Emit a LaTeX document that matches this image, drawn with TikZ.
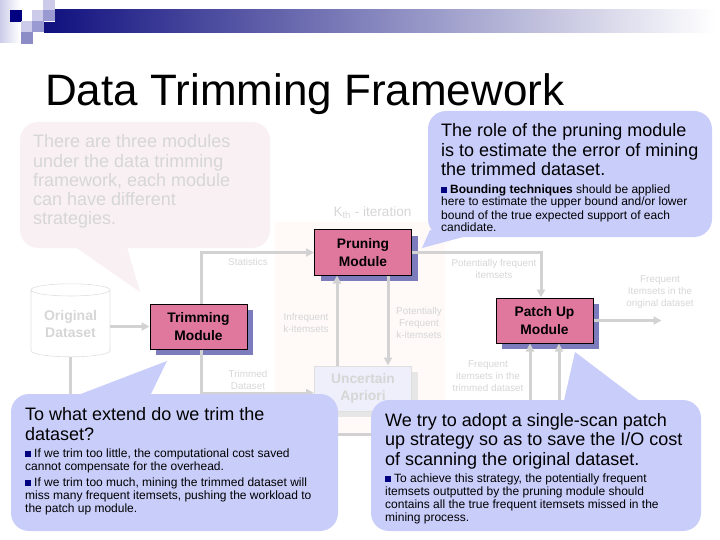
\documentclass[tikz,border=0pt]{standalone}
\usepackage{fontspec}
\setmainfont{Liberation Sans}
\usetikzlibrary{arrows.meta,shapes.geometric}
\definecolor{barnavy}{HTML}{10107F}
\definecolor{sqnavy}{HTML}{000080}
\definecolor{sqpale}{HTML}{CCCCEA}
\definecolor{sqmid}{HTML}{9A9AD2}
\definecolor{sqdark}{HTML}{8C8CC6}
\definecolor{modpink}{HTML}{E0789E}
\definecolor{modshade}{HTML}{7C7CBC}
\definecolor{modfade}{HTML}{EEEFFA}
\definecolor{fadetext}{HTML}{D6D6D6}
\definecolor{fadeline}{HTML}{D2D2D2}
\definecolor{bubblue}{HTML}{C9CDFA}
\definecolor{bubpink}{HTML}{F9F0F3}
\definecolor{panelpink}{HTML}{FFF9F8}
\newcommand{\sqbul}{\textcolor{sqnavy}{\rule{6pt}{6pt}}\hspace{3pt}}
\tikzset{
	module/.style={draw=black,fill=modpink,line width=1pt,minimum width=97pt,minimum height=45pt,inner sep=0pt,align=center,font=\fontsize{13.8}{17.5}\selectfont\bfseries},
	moduleshade/.style={fill=modshade,minimum width=97pt,minimum height=45pt,inner sep=0pt},
	flow/.style={fadeline,line width=3pt,-{Triangle[length=8pt,width=8pt]}},
	note/.style={text=fadetext,align=center,inner sep=0pt,font=\fontsize{9.9}{12}\selectfont},
	bubble/.style={fill=bubblue,rounded corners=18pt,inner sep=0pt},
	headtext/.style={anchor=base west,inner sep=0pt,align=left,font=\fontsize{18}{19.5}\selectfont},
	bodytext/.style={anchor=base west,inner sep=0pt,align=left,font=\fontsize{12}{13}\selectfont}
}
\begin{document}
\begin{tikzpicture}[x=1pt,y=-1pt]
	\useasboundingbox (0,0) rectangle (720,540);

	% header
	\fill[left color=sqpale,right color=white] (0,0) rectangle (20,43);
	\fill[left color=barnavy,right color=white] (44,10) rectangle (715,33);
	\fill[white] (44,10) rectangle (55,22);
	\fill[sqnavy] (10,10) rectangle (22,22);
	\fill[sqpale] (32,10) rectangle (44,21);
	\fill[sqpale] (43,0) rectangle (55,11);
	\fill[sqmid] (43,10) rectangle (55,21);
	\fill[sqpale] (21,21) rectangle (32,32);
	\fill[sqmid] (32,21) rectangle (44,32);
	\fill[sqdark] (21,32) rectangle (33,44);
	\node[anchor=base west,inner sep=0pt,font=\fontsize{44}{50}\selectfont] (title) at (45,106) {Data Trimming Framework};

	% faded panel
	\fill[panelpink] (275,222) rectangle (445,434);

	% modules
	\node[moduleshade] (pruneshade) at (369,258.5) {};
	\node[moduleshade] (trimshade) at (204.5,332.5) {};
	\node[moduleshade] (patchshade) at (550.5,326.5) {};
	\node[moduleshade,fill=fadeline!55] (aprioshade) at (369,394.5) {};
	\node[module] (prune) at (363,252.5) {Pruning\\Module};
	\node[module] (trim) at (198.5,326.5) {Trimming\\Module};
	\node[module] (patch) at (544.5,320.5) {Patch Up\\Module};
	\node[module,draw=fadeline!70,fill=modfade,text=fadetext] (aprio) at (363,388.5) {Uncertain\\Apriori};
	\node[cylinder,shape border rotate=90,draw=fadeline!70,line width=0.6pt,aspect=0.23,minimum width=79pt,minimum height=73pt,inner sep=0pt,align=center,text=fadetext,font=\fontsize{14}{17}\selectfont\bfseries] (data) at (70.5,323.5) {Original\\Dataset};

	% connectors
	\draw[flow] (data.east |- trim.west) -- (trim.west);
	\draw[flow] ([xshift=2.5pt]trim.north) |- (prune.west);
	\draw[flow] ([xshift=2.5pt]trim.south) |- ([yshift=-4.5pt]aprio.west);
	\draw[flow] ([xshift=-26pt]aprio.north) -- ([xshift=-26pt]prune.south);
	\draw[flow] ([xshift=25pt]prune.south) -- ([xshift=25pt]aprio.north);
	\draw[flow] (prune.east) -| ([xshift=-3.5pt]patch.north);
	\draw[flow] ([yshift=-19pt]aprio.east) -| ([xshift=-14.5pt]patch.south);
	\draw[flow] (data.south) |- (559,434) -- ([xshift=14.5pt]patch.south);
	\draw[flow] (patch.east) -- ++(68,0) coordinate (patchout);

	% labels
	\node[inner sep=0pt,text=fadetext,font=\fontsize{13.6}{15}\selectfont] (kth) at (372.5,213) {K\textsubscript{th} - iteration};
	\node[note] (statlabel) at (248,262) {Statistics};
	\node[note] (trimlabel) at (248,380) {Trimmed\\Dataset};
	\node[note] (inflabel) at (306,323) {Infrequent\\k-itemsets};
	\node[note] (potlabel) at (419,323) {Potentially\\Frequent\\k-itemsets};
	\node[note] (pflabel) at (494,269) {Potentially frequent\\itemsets};
	\node[note] (ftlabel) at (488,376.5) {Frequent\\itemsets in the\\trimmed dataset};
	\node[note] (folabel) at (660,292) {Frequent\\Itemsets in the\\original dataset};

	% callouts
	\fill[bubpink] (65,240) -- (140,292) -- (125,240) -- cycle;
	\node[bubble,fill=bubpink,minimum width=250pt,minimum height=126pt] (introbub) at (145,185) {};
	\node[headtext,text=fadetext,font=\fontsize{18}{19.3}\selectfont] (introtxt) at (33,225) {There are three modules\\under the data trimming\\framework, each module\\can have different\\strategies.};

	\fill[bubblue] (430,230) -- (422,248) -- (467,236) -- cycle;
	\node[bubble,minimum width=284pt,minimum height=126pt] (rolebub) at (570,174) {};
	\node[headtext] (rolehead) at (441,176) {The role of the pruning module\\is to estimate the error of mining\\the trimmed dataset.};
	\node[bodytext] (rolebody) at (441,232) {\sqbul\textbf{Bounding techniques} should be applied\\here to estimate the upper bound and/or lower\\bound of the true expected support of each\\candidate.};

	\fill[bubblue] (65,400) -- (167,361) -- (148,400) -- cycle;
	\node[bubble,minimum width=327pt,minimum height=137pt] (trimbub) at (174.5,462.5) {};
	\node[headtext] (trimhead) at (25,440) {To what extend do we trim the\\dataset?};
	\node[bodytext] (trimbody) at (25,512) {\sqbul If we trim too little, the computational cost saved\\cannot compensate for the overhead.\\[3pt]\sqbul If we trim too much, mining the trimmed dataset will\\miss many frequent itemsets, pushing the workload to\\the patch up module.};

	\fill[bubblue] (563,405) -- (575,352) -- (645,405) -- cycle;
	\node[bubble,minimum width=330pt,minimum height=131pt] (patchbub) at (536,465.5) {};
	\node[headtext] (patchhead) at (385,465) {We try to adopt a single-scan patch\\up strategy so as to save the I/O cost\\of scanning the original dataset.};
	\node[bodytext] (patchbody) at (385,521) {\sqbul To achieve this strategy, the potentially frequent\\itemsets outputted by the pruning module should\\contains all the true frequent itemsets missed in the\\mining process.};
\end{tikzpicture}
\end{document}
